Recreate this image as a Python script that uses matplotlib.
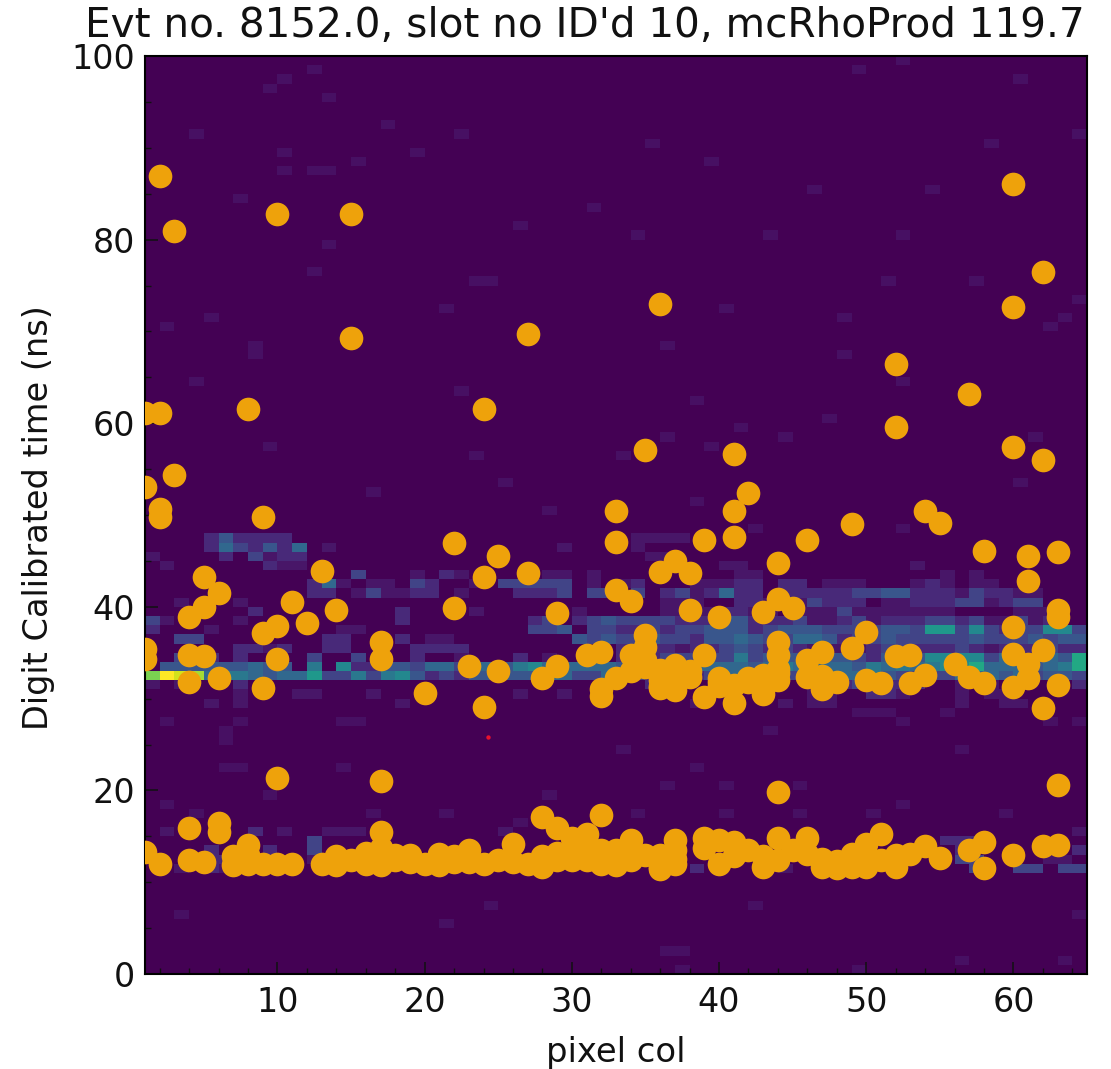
import numpy as np
import matplotlib
matplotlib.use("Agg")
import matplotlib.pyplot as plt
from matplotlib.ticker import MultipleLocator

title = "Evt no. 8152.0, slot no ID'd 10, mcRhoProd 119.7"

# digit hits (pixel col, time in ns)
dig_col = [2, 3, 10, 15, 15, 27, 36, 60, 62, 60, 52, 57, 52, 60, 62, 35, 41, 42, 24, 8, 2, 1, 3, 1, 2, 2,
           9, 33, 41, 54, 55, 49, 22, 33, 41, 46, 39, 25, 24, 27, 13, 5, 6, 5, 4, 11, 10, 9, 12, 14, 22, 29,
           33, 34, 36, 37, 38, 38, 40, 43, 44, 45, 44, 58, 61, 61, 63, 63, 63, 60, 50,
           1, 1, 4, 5, 4, 6, 10, 9, 17, 17, 20, 23, 24, 25, 28, 29, 31, 32, 32, 32,
           33, 34, 34, 35, 35, 35, 36, 36, 37, 37, 38, 39, 39, 40, 44, 44, 44, 43, 42, 42, 43, 43, 44, 41,
           46, 47, 46, 47, 48, 49, 50, 51, 52, 53, 53, 54, 56, 57, 58, 60, 60, 61, 61, 62, 62, 63, 40, 41,
           36, 37, 38, 40, 35, 36, 43, 44, 47,
           10, 17, 4, 6, 6, 1, 2, 4, 5, 7, 7, 8, 8, 8, 9, 10, 11, 13, 14, 14, 15, 16, 16, 17, 17, 17, 18, 18,
           19, 19, 20, 21, 21, 22, 23, 23, 24, 25, 26, 26, 27, 28, 28, 28, 29, 30, 30, 31, 31, 32, 32, 32, 33,
           31, 29, 44, 63, 33, 34, 34, 35, 36, 36, 37, 37, 37, 39, 39, 40, 40, 41, 41, 42, 43, 43, 44, 44,
           45, 46, 46, 47, 48, 49, 49, 50, 50, 51, 51, 52, 53, 54, 55, 57, 58, 58, 60, 62, 63,
           29, 30, 31, 33, 36, 37, 47, 48, 49, 50, 52, 16, 18, 22]
dig_t = [86.9, 80.9, 82.8, 82.8, 69.3, 69.7, 73.0, 86.1, 76.5, 72.7, 66.4, 63.2, 59.6, 57.4, 56.0, 57.1, 56.6,
         52.4, 61.5, 61.6, 61.1, 61.1, 54.4, 53.0, 50.7, 49.8, 49.8, 50.4, 50.4, 50.4, 49.1, 49.0, 47.0, 47.1,
         47.6, 47.3, 47.3, 45.5, 43.2, 43.7, 43.9, 43.3, 41.5, 40.0, 38.9, 40.5, 37.9, 37.2, 38.2, 39.6, 39.9,
         39.3, 41.8, 40.6, 43.8, 45.0, 43.7, 39.6, 38.9, 39.4, 40.8, 39.9, 44.8, 46.1, 45.5, 42.8, 46.0, 39.7,
         38.9, 37.8, 37.3,
         35.4, 34.3, 34.7, 34.6, 31.8, 32.2, 34.3, 31.2, 36.2, 34.3, 30.6, 33.6, 29.1, 33.0, 32.2, 33.6, 34.8,
         35.1, 31.0, 30.3,
         32.2, 34.7, 33.0, 36.9, 35.6, 34.2, 33.1, 32.0, 33.7, 30.9, 32.4, 30.2, 34.8, 31.8, 36.2, 34.7, 32.8,
         32.6, 32.2, 31.8, 30.9, 31.6, 32.0, 29.5,
         34.2, 35.1, 32.4, 31.1, 31.8, 35.5, 32.0, 31.7, 34.6, 34.7, 31.7, 32.6, 33.8, 32.4, 31.7, 34.9, 31.3,
         33.8, 32.2, 35.3, 29.0, 31.5, 32.2, 31.5,
         31.4, 32.3, 33.0, 31.4, 33.4, 31.2, 30.5, 33.2, 32.5,
         21.4, 21.0, 15.9, 16.4, 15.5, 13.3, 12.0, 12.4, 12.2, 11.9, 12.8, 12.0, 13.0, 14.0, 12.0, 12.0, 12.0,
         12.0, 11.9, 12.8, 12.4, 12.8, 12.0, 13.7, 15.5, 11.9, 12.4, 13.0, 13.0, 12.2, 12.0, 11.9, 13.1, 12.2,
         12.2, 13.5, 12.0, 12.4, 12.2, 14.2, 12.0, 11.7, 12.8, 17.1, 15.9, 14.8, 12.4, 15.3, 12.4, 17.3, 13.5,
         12.0, 11.9, 13.8, 12.4,
         19.8, 20.6, 12.4, 14.6, 12.4, 13.0, 11.4, 11.7, 14.6, 13.5, 12.0, 14.8, 13.7, 14.6, 12.0, 14.4, 12.8,
         13.5, 12.8, 11.7, 12.4, 14.8, 13.5, 14.8, 13.1, 11.7, 11.5, 13.1, 11.7, 14.2, 11.7, 15.3, 12.4, 11.7,
         13.1, 13.9, 12.6, 13.5, 14.4, 11.5, 13.0, 13.9, 14.0,
         13.2, 13.4, 13.6, 13.5, 13.0, 12.5, 12.5, 12.3, 12.5, 13.0, 13.0, 13.2, 12.6, 12.8]

# red reference point
ref_col = [24.3]
ref_t = [25.8]

# histogram cells by time row: {pixel col: count}
row_47 = {5: 2, 6: 4, 7: 2, 8: 2, 9: 2, 10: 2, 34: 1, 35: 1, 36: 1, 37: 1}
row_46 = {5: 2, 6: 5, 7: 3, 8: 2, 9: 4, 10: 2, 11: 5, 13: 1, 29: 1, 34: 1}
row_45 = {1: 1, 6: 2, 8: 3, 9: 1, 10: 2, 11: 2, 35: 1, 36: 1}
row_44 = {2: 1, 9: 2, 10: 1, 11: 1, 40: 1, 41: 1, 53: 1}
row_43 = {15: 3, 19: 1, 21: 2, 22: 1, 28: 1, 29: 1, 31: 1, 41: 1, 42: 1, 55: 1, 57: 1}
row_42 = {12: 2, 13: 5, 14: 1, 16: 1, 17: 1, 19: 3, 20: 2, 23: 1, 25: 3, 26: 3, 27: 3, 28: 3, 29: 3, 31: 1,
          33: 1, 34: 2, 38: 1, 39: 1, 40: 1, 41: 2, 42: 2, 44: 2, 45: 2, 47: 1, 48: 1, 49: 1, 53: 1, 54: 2,
          55: 1, 57: 1, 58: 1}
row_41 = {12: 2, 13: 2, 15: 1, 16: 3, 17: 1, 18: 1, 19: 2, 20: 2, 22: 1, 26: 2, 27: 2, 28: 2, 29: 3, 31: 3,
          32: 3, 34: 3, 36: 2, 37: 3, 38: 1, 39: 2, 40: 5, 41: 2, 42: 2, 44: 2, 45: 2, 46: 2, 47: 2, 48: 2,
          49: 3, 50: 3, 51: 4, 52: 4, 53: 2, 54: 2, 55: 2, 56: 1, 57: 3, 58: 2, 59: 2, 60: 1, 61: 1}
row_40 = {3: 1, 7: 1, 36: 1, 37: 1, 38: 1, 41: 2, 42: 2, 43: 1, 44: 1, 45: 1, 46: 3, 47: 2, 48: 2, 49: 2,
          51: 1, 52: 1, 53: 2, 54: 2, 55: 2, 56: 3, 57: 3, 58: 1, 59: 2, 60: 3, 61: 3}
row_39 = {8: 2, 18: 2, 23: 1, 30: 1, 36: 1, 37: 1, 38: 1, 39: 1, 40: 2, 41: 2, 42: 1, 43: 1, 45: 1, 46: 1,
          47: 1, 48: 3, 49: 1, 50: 1, 51: 1, 52: 1, 53: 1, 54: 1, 55: 1, 60: 1, 61: 1, 62: 1}
row_38 = {1: 3, 2: 1, 7: 1, 18: 2, 27: 2, 28: 3, 30: 2, 31: 3, 32: 4, 33: 3, 34: 3, 35: 3, 36: 3, 37: 2,
          38: 2, 39: 2, 40: 4, 41: 4, 42: 2, 43: 2, 44: 2, 45: 3, 46: 1, 47: 1, 48: 2, 49: 3, 50: 1, 51: 2,
          52: 2, 53: 2, 54: 3, 55: 3, 56: 2, 57: 3, 58: 1, 59: 1, 60: 3, 61: 1, 62: 2}
row_37 = {1: 2, 5: 1, 14: 1, 15: 1, 27: 3, 28: 3, 29: 4, 31: 3, 32: 3, 33: 2, 34: 2, 35: 3, 36: 2, 37: 3,
          38: 3, 39: 4, 40: 4, 41: 4, 42: 2, 43: 3, 44: 4, 45: 4, 46: 4, 47: 3, 48: 3, 49: 3, 50: 3, 51: 4,
          52: 4, 53: 3, 54: 8, 55: 8, 56: 3, 57: 7, 58: 3, 59: 2, 60: 3, 61: 3, 62: 7, 63: 7, 64: 3}
row_36 = {3: 3, 4: 3, 13: 2, 14: 2, 18: 2, 20: 1, 21: 1, 30: 4, 31: 3, 32: 4, 33: 3, 34: 3, 35: 4, 36: 3,
          37: 3, 38: 2, 39: 4, 40: 4, 41: 5, 42: 4, 43: 3, 44: 3, 45: 5, 46: 5, 47: 4, 48: 2, 49: 3, 50: 3,
          51: 4, 52: 3, 53: 3, 54: 3, 55: 3, 56: 3, 57: 4, 58: 3, 59: 3, 60: 3, 61: 4, 62: 3, 63: 4, 64: 4}
row_35 = {7: 2, 8: 2, 9: 1, 10: 2, 13: 2, 14: 2, 19: 2, 20: 2, 21: 2, 22: 2, 33: 2, 34: 2, 35: 2, 36: 2,
          37: 1, 38: 2, 39: 2, 40: 3, 41: 4, 42: 3, 43: 2, 44: 3, 45: 2, 46: 1, 47: 1, 48: 1, 49: 1, 50: 2,
          51: 3, 52: 3, 53: 2, 54: 2, 55: 2, 56: 3, 57: 2, 58: 1, 59: 2, 60: 2, 61: 2, 62: 3, 63: 2, 64: 2}
row_34 = {3: 3, 4: 4, 5: 2, 7: 2, 12: 3, 15: 3, 19: 2, 22: 1, 26: 2, 28: 1, 31: 2, 33: 2, 34: 2, 35: 2,
          36: 3, 37: 3, 38: 3, 39: 3, 40: 3, 41: 6, 42: 3, 43: 4, 44: 4, 45: 4, 46: 3, 47: 4, 48: 4, 49: 3,
          50: 2, 51: 4, 52: 4, 53: 4, 54: 7, 55: 7, 56: 7, 57: 7, 58: 3, 59: 5, 60: 5, 61: 4, 62: 5, 63: 4,
          64: 9}
row_33 = {2: 4, 3: 4, 4: 4, 5: 4, 6: 4, 7: 4, 8: 5, 9: 4, 10: 4, 12: 6, 14: 7, 15: 2, 16: 2, 17: 4, 18: 4,
          19: 3, 20: 5, 21: 5, 22: 3, 23: 5, 24: 5, 25: 4, 26: 6, 27: 7, 28: 5, 29: 5, 30: 5, 31: 5, 32: 5,
          33: 4, 34: 4, 35: 3, 36: 3, 37: 4, 38: 5, 39: 5, 40: 5, 41: 5, 42: 4, 43: 5, 44: 6, 45: 5, 46: 5,
          47: 5, 48: 5, 49: 4, 50: 6, 51: 5, 52: 6, 53: 5, 54: 6, 55: 7, 56: 7, 57: 9, 58: 5, 59: 5, 60: 5,
          61: 4, 62: 5, 63: 6, 64: 9}
row_32 = {1: 12, 2: 15, 3: 14, 4: 13, 5: 5, 6: 6, 7: 6, 8: 5, 9: 4, 10: 5, 11: 5, 12: 8, 13: 3, 14: 3, 15: 6,
          16: 3, 17: 6, 18: 7, 19: 4, 20: 2, 21: 3, 22: 2, 23: 4, 24: 4, 25: 4, 26: 4, 27: 4, 28: 5, 29: 5,
          30: 3, 31: 3, 32: 5, 33: 2, 34: 3, 35: 2, 36: 2, 37: 2, 38: 2, 39: 3, 40: 5, 41: 5, 42: 2, 43: 3,
          44: 3, 45: 3, 46: 4, 47: 5, 48: 5, 49: 5, 50: 6, 51: 4, 52: 3, 53: 3, 54: 3, 55: 3, 56: 5, 57: 5,
          58: 5, 59: 4, 60: 5, 61: 3, 62: 4, 63: 4, 64: 3}
row_31 = {1: 1, 3: 1, 7: 2, 35: 2, 36: 2, 40: 2, 43: 2, 46: 1, 47: 2, 48: 2, 49: 3, 50: 2, 51: 2, 52: 2, 53: 2,
          56: 1, 58: 1, 64: 2}
row_30 = {7: 1, 11: 1, 12: 1, 16: 1, 26: 1, 29: 1, 46: 1, 47: 1, 50: 2, 51: 2, 52: 1, 56: 1, 58: 1, 59: 1}
row_29 = {5: 1, 7: 1, 18: 1, 38: 1, 44: 1, 46: 1, 47: 1, 56: 1, 59: 1, 60: 1}
row_15 = {2: 1, 8: 2, 10: 1, 13: 1, 14: 1, 15: 1, 25: 1, 64: 1}
row_14 = {12: 3, 55: 2, 56: 2, 57: 2}
row_13 = {5: 2, 9: 2, 12: 3, 56: 2, 64: 2}
row_12 = {4: 2, 5: 2, 6: 2, 12: 1, 56: 3, 57: 3, 62: 1, 63: 1}
row_11 = {3: 1, 5: 2, 6: 1, 38: 2, 44: 1, 57: 3, 60: 3, 61: 3, 63: 3, 64: 3}

# lone faint cells
stray_col = [12, 10, 9, 13, 4, 17, 22, 10, 19, 15, 10, 12, 13, 7, 31, 26, 13, 12, 23, 24, 21, 5, 2, 8, 8, 4, 22,
             9, 23, 25, 16, 28, 49, 52, 60, 35, 39, 58, 64, 46, 54, 34, 43, 52, 51, 57, 64, 40, 48, 63, 62, 36,
             48, 52, 38, 47, 41, 36, 44, 61, 39, 33, 60, 38,
             2, 7, 14, 15, 6, 6, 2, 3, 9, 28, 14, 6, 7, 21, 26, 24, 4, 16, 21,
             42, 52, 49, 50, 51, 55, 52, 62, 64, 43, 33, 56, 34, 40, 45, 50, 59, 52, 36, 40, 45, 38, 64, 42,
             36, 37, 56, 63, 49, 37]
stray_t = [98, 97, 96, 95, 91, 92, 91, 89, 89, 88, 87, 87, 87, 84, 83, 81, 79, 76, 75, 75, 72, 71, 70, 68, 67,
           64, 63, 57, 56, 53, 52, 50, 98, 99, 97, 90, 88, 90, 91, 85, 85, 80, 80, 80, 75, 75, 73, 72, 71, 71,
           70, 68, 67, 64, 62, 60, 59, 58, 58, 58, 57, 56, 53, 51,
           27, 27, 27, 27, 26, 25, 18, 6, 19, 19, 22, 22, 22, 17, 16, 7, 17, 17, 5,
           48, 48, 28, 28, 28, 28, 27, 27, 27, 26, 24, 24, 17, 17, 17, 17, 17, 18, 20, 20, 20, 22, 6, 7,
           2, 2, 1, 1, 0, 0]

heat_rows = {47: row_47, 46: row_46, 45: row_45, 44: row_44, 43: row_43, 42: row_42, 41: row_41, 40: row_40,
             39: row_39, 38: row_38, 37: row_37, 36: row_36, 35: row_35, 34: row_34, 33: row_33, 32: row_32,
             31: row_31, 30: row_30, 29: row_29, 15: row_15, 14: row_14, 13: row_13, 12: row_12, 11: row_11}

heat_x = [c + 0.5 for c in stray_col]
heat_y = [t + 0.5 for t in stray_t]
heat_w = [0.6] * len(stray_col)
for t, row in heat_rows.items():
    for c, w in row.items():
        heat_x.append(c + 0.5)
        heat_y.append(t + 0.5)
        heat_w.append(w * 0.85 if w < 3 else w)

n = min(len(dig_col), len(dig_t))

fig = plt.figure(figsize=(11.11, 10.69), dpi=100)
ax = fig.add_axes([145 / 1111, 1 - 974 / 1069, 942 / 1111, 918 / 1069])

ax.hist2d(heat_x, heat_y, bins=[np.arange(1, 66), np.arange(0, 101)], weights=heat_w,
          cmap="viridis", vmin=0, vmax=15)
ax.scatter(dig_col[:n], dig_t[:n], s=290, color="#eea20b", linewidths=0, zorder=3)
ax.scatter(ref_col, ref_t, s=10, color="#e8112d", linewidths=0, zorder=4)

ax.set_xlim(1, 65)
ax.set_ylim(0, 100)
ax.xaxis.set_major_locator(MultipleLocator(10))
ax.xaxis.set_minor_locator(MultipleLocator(2))
ax.yaxis.set_major_locator(MultipleLocator(20))
ax.yaxis.set_minor_locator(MultipleLocator(5))
ax.tick_params(which="major", direction="in", length=9, width=1.1, labelsize=24, color="#111111",
               labelcolor="#111111")
ax.tick_params(axis="x", which="major", pad=9)
ax.tick_params(axis="y", which="major", pad=7)
ax.tick_params(which="minor", direction="in", length=4.5, width=1.0, color="#111111")
for s in ax.spines.values():
    s.set_linewidth(1.5)

ax.set_xlabel("pixel col", fontsize=24.4, color="#111111")
ax.set_ylabel("Digit Calibrated time (ns)", fontsize=24.2, color="#111111")
ax.xaxis.set_label_coords(0.4995, -0.068)
ax.yaxis.set_label_coords(-0.0955, 0.497)
fig.text(585 / 1111, 1 - 37 / 1069, title, fontsize=29.2, ha="center", va="baseline", color="#111111")

print(len(dig_col), len(dig_t))
fig.savefig("out.png", dpi=100)
